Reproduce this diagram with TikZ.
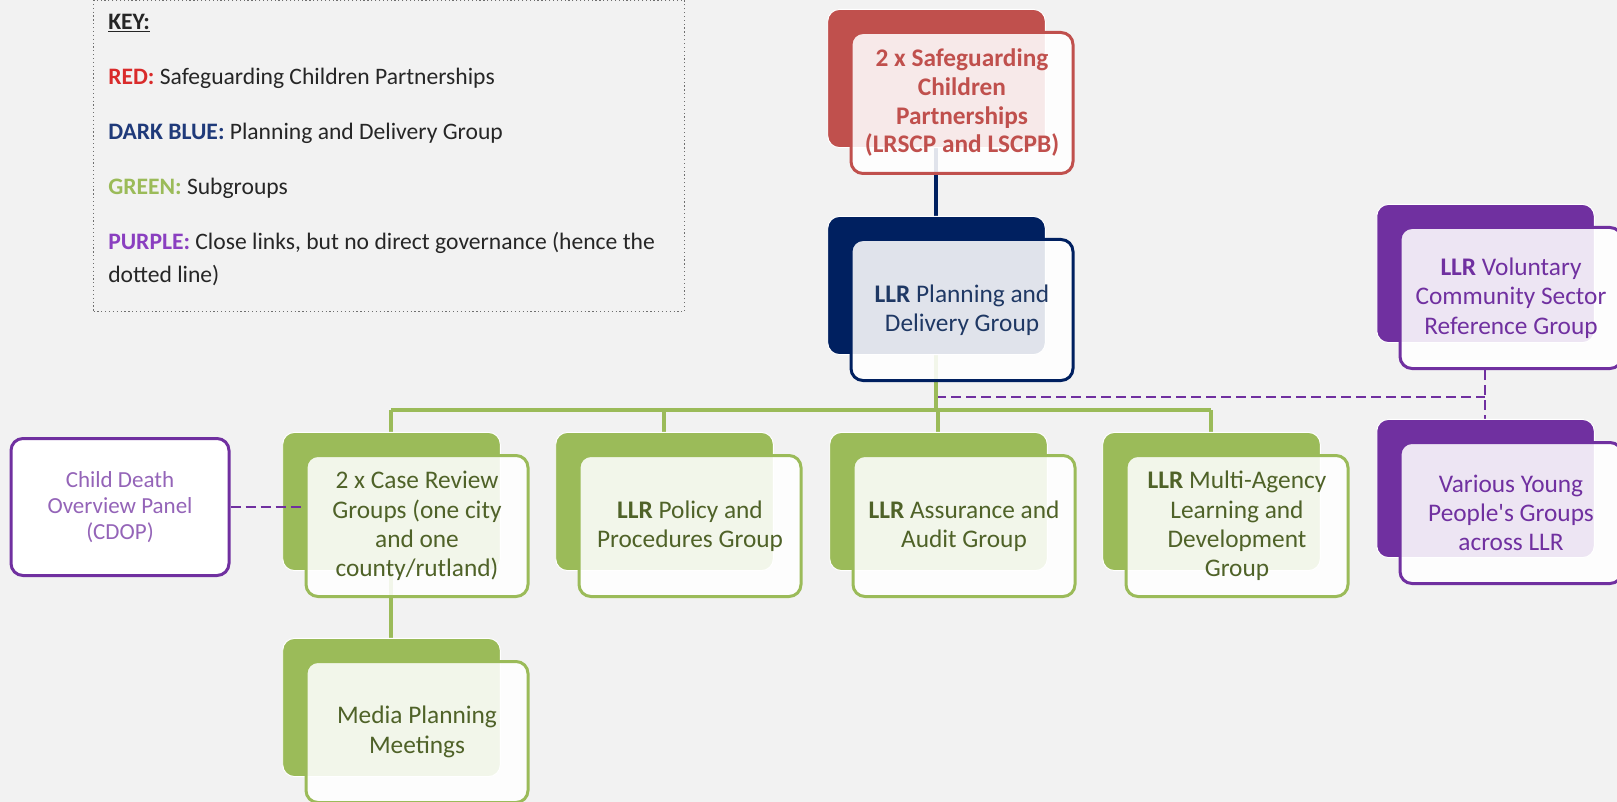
\documentclass[tikz,border=0pt]{standalone}
\usepackage{fontspec}
\setmainfont{Carlito}
\usetikzlibrary{calc,shadows}

\definecolor{pagebg}{HTML}{F2F2F2}
\definecolor{scpred}{HTML}{C0504D}
\definecolor{pdgblue}{HTML}{002060}
\definecolor{pdgtext}{HTML}{1F3864}
\definecolor{subgreen}{HTML}{9BBB59}
\definecolor{subtext}{HTML}{4F6228}
\definecolor{linkpurple}{HTML}{7030A0}
\definecolor{keyred}{HTML}{D92B2B}
\definecolor{keyblue}{HTML}{1F3A7A}
\definecolor{keypurple}{HTML}{8A3FC0}
\definecolor{keygrey}{HTML}{6F6F6F}

\pgfdeclarelayer{bg}
\pgfsetlayers{bg,main}

\tikzset{
	orgbox/.style={rectangle, rounded corners=9pt, draw=#1, line width=2.25pt,
		fill=white, fill opacity=0.88, draw opacity=1, text opacity=1,
		minimum width=166.5pt, minimum height=105.75pt, inner sep=2pt, align=center,
		font=\fontsize{19}{22}\selectfont,
		general shadow={fill=#1, draw=white, line width=0.75pt, fill opacity=1, draw opacity=1,
			shadow scale=0.98, shadow xshift=-19.5pt, shadow yshift=18.75pt}},
	redbox/.style={orgbox=scpred, text=scpred, font=\bfseries\fontsize{19}{21.5}\selectfont},
	bluebox/.style={orgbox=pdgblue, text=pdgtext},
	greenbox/.style={orgbox=subgreen, text=subtext},
	purplebox/.style={orgbox=linkpurple, text=linkpurple},
	cdopbox/.style={rectangle, rounded corners=9pt, draw=linkpurple, line width=2.25pt, fill=white,
		minimum width=163.5pt, minimum height=102.75pt, align=center, text=linkpurple!75,
		font=\fontsize{17.25}{19.5}\selectfont},
	keyframe/.style={rectangle, draw=keygrey, dotted, line width=0.9pt,
		minimum width=443.25pt, minimum height=233.25pt},
	keytext/.style={align=left, inner sep=0pt, text=black!85, font=\fontsize{17.7}{24.75}\selectfont},
	bluelink/.style={draw=pdgblue, line width=3pt},
	greenlink/.style={draw=subgreen, line width=3pt},
	purplelink/.style={draw=linkpurple, line width=1.5pt, dash pattern=on 7.5pt off 3.75pt}
}

\begin{document}
\begin{tikzpicture}[x=0.75pt, y=-0.75pt]
			%%%%% START %%%%%
			\useasboundingbox (0,0) rectangle (1617,802);
			\begin{pgfonlayer}{bg}
				\fill[pagebg] (0,0) rectangle (1617,802);
			\end{pgfonlayer}
			
			% key
			\node[keyframe] (key) at (389,156) {};
			\node[keytext, anchor=north west] (keylist) at (108,14) {\underline{\textbf{KEY:}}\\[16.5pt]
				{\color{keyred}\textbf{RED:}} Safeguarding Children Partnerships\\[16.5pt]
				{\color{keyblue}\textbf{DARK BLUE:}} Planning and Delivery Group\\[16.5pt]
				{\color{subgreen}\textbf{GREEN:}} Subgroups\\[16.5pt]
				{\color{keypurple}\textbf{PURPLE:}} Close links, but no direct governance (hence the\\
				dotted line)};
			
			% governance
			\node[redbox] (scp) at (962,103) {2 x Safeguarding\\Children\\Partnerships\\(LRSCP and LSCPB)};
			\node[bluebox] (pdg) at (962,310) {\textbf{LLR} Planning and\\Delivery Group};
			
			% close links
			\node[purplebox] (vcs) at (1511,298) {\textbf{LLR} Voluntary\\Community Sector\\Reference Group};
			\node[purplebox] (ypg) at (1511,513) {Various Young\\People\textquotesingle s Groups\\across LLR};
			\node[cdopbox] (cdop) at (120,507) {Child Death\\Overview Panel\\(CDOP)};
			
			% subgroups
			\node[greenbox] (crg) at (417,526) {2 x Case Review\\Groups (one city\\and one\\county/rutland)};
			\node[greenbox] (ppg) at (690,526) {\textbf{LLR} Policy and\\Procedures Group};
			\node[greenbox] (aag) at (964,526) {\textbf{LLR} Assurance and\\Audit Group};
			\node[greenbox] (mald) at (1237,526) {\textbf{LLR} Multi-Agency\\Learning and\\Development\\Group};
			\node[greenbox] (mpm) at (417,732) {Media Planning\\Meetings};
			
			% back box centres
			\foreach \g in {scp,pdg,vcs,ypg,crg,ppg,aag,mald,mpm}
				\coordinate (\g-b) at ($(\g.center)+(-26,-25)$);
			\coordinate (bus) at (0,410);
			\coordinate (vlink) at (0,397);
			
			\begin{pgfonlayer}{bg}
				\draw[bluelink] (scp-b) -- (pdg-b);
				\draw[purplelink] (pdg-b |- vlink) -- (vcs-b |- vlink);
				\draw[purplelink] (vcs-b |- vcs.south) -- (ypg-b);
				\draw[greenlink] (pdg-b) -- (pdg-b |- bus);
				\draw[greenlink] (crg-b |- bus) -- (mald-b |- bus);
				\foreach \g in {crg,ppg,aag,mald}
					\draw[greenlink] (\g-b |- bus) -- (\g-b);
				\draw[greenlink] (crg-b) -- (mpm-b);
			\end{pgfonlayer}
			\draw[purplelink] (cdop.east) -- (cdop.east -| crg.west);
			%%%%% END %%%%%
\end{tikzpicture}
\end{document}
